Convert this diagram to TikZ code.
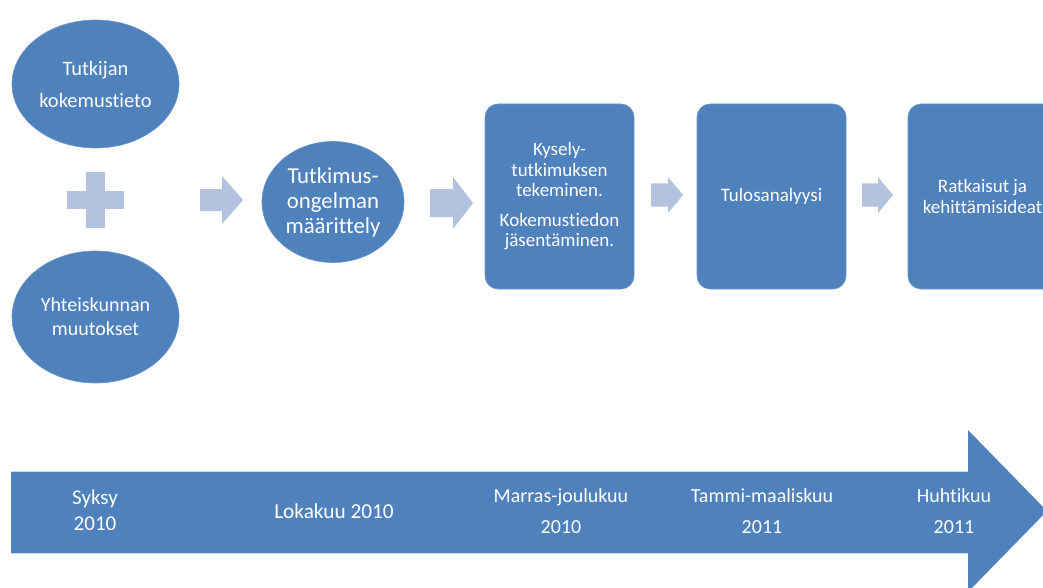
\documentclass[tikz,border=0pt]{standalone}
\usepackage{fontspec}
\setmainfont{Carlito}[Ligatures=NoCommon]
\usetikzlibrary{shapes.geometric}
\definecolor{mainblue}{HTML}{4F81BD}
\definecolor{lightblue}{HTML}{B3C3DF}
\tikzset{
  blob/.style={ellipse, fill=mainblue, draw=mainblue!85!white, line width=0.6pt, text=white, align=center, inner sep=0pt},
  stagebox/.style={rectangle, rounded corners=13pt, fill=mainblue, draw=mainblue!85!white, line width=0.6pt, text=white, align=center, minimum width=149pt, minimum height=185pt, inner sep=0pt, font=\fontsize{19}{20.5}\selectfont},
  tltext/.style={text=white, align=center, font=\fontsize{20}{31}\selectfont, inner sep=0pt},
}
% block arrow: #1 left x, #2 centre y, #3 body end x, #4 tip x, #5 body half height, #6 head half height
\newcommand{\blockarrow}[6]{%
  \fill[lightblue] (#1,#2-#5) -- (#3,#2-#5) -- (#3,#2-#6) -- (#4,#2) -- (#3,#2+#6) -- (#3,#2+#5) -- (#1,#2+#5) -- cycle;}
\begin{document}
\begin{tikzpicture}[x=1pt,y=-1pt]
\useasboundingbox (0,0) rectangle (1043,588);
\clip (0,0) rectangle (1043,588);

% left ellipses
\node[blob, minimum width=167pt, minimum height=128pt, font=\fontsize{20.5}{32}\selectfont] (kok) at (95.5,84) {Tutkijan\\kokemustieto};
\node[blob, minimum width=167pt, minimum height=132pt, font=\fontsize{20}{24}\selectfont] (yht) at (95.5,317) {Yhteiskunnan\\muutokset};

% plus sign
\fill[lightblue] (67,191) rectangle (124,209);
\fill[lightblue] (86,172) rectangle (105,228);

% circle
\node[blob, minimum width=142pt, minimum height=121pt, font=\fontsize{22.8}{25}\selectfont] (prob) at (333,202) {Tutkimus-\\ongelman\\määrittely};

% boxes
\node[stagebox] (b1) at (559.5,196.5) {Kysely-\\tutkimuksen\\tekeminen.\\[9pt]Kokemustiedon\\jäsentäminen.};
\node[stagebox] (b2) at (771.5,196.5) {Tulosanalyysi};
\node[stagebox] (b3) at (982.5,196.5) {Ratkaisut ja\\kehittämisideat};

% block arrows between stages
\blockarrow{200}{200}{222}{243}{11}{24}
\blockarrow{430}{203}{453}{473}{14}{26}
\blockarrow{651}{195}{668}{683}{11.5}{18}
\blockarrow{862}{195}{878}{893}{11.5}{18}

% timeline arrow
\fill[mainblue] (11,471) -- (968,471) -- (968,430) -- (1047,511) -- (968,592) -- (968,553) -- (11,553) -- cycle;
\draw[white!70!mainblue, line width=0.6pt] (11,471) -- (968,471);
\draw[white!70!mainblue, line width=0.6pt] (11,553) -- (968,553);

\node[tltext, font=\fontsize{21}{26}\selectfont] (t1) at (95,510.5) {Syksy\\2010};
\node[tltext, font=\fontsize{21.3}{26}\selectfont] (t2) at (334,511) {Lokakuu 2010};
\node[tltext] (t3) at (561,511.5) {Marras-joulukuu\\2010};
\node[tltext] (t4) at (762,511.5) {Tammi-maaliskuu\\2011};
\node[tltext] (t5) at (954,511.5) {Huhtikuu\\2011};
\end{tikzpicture}
\end{document}
